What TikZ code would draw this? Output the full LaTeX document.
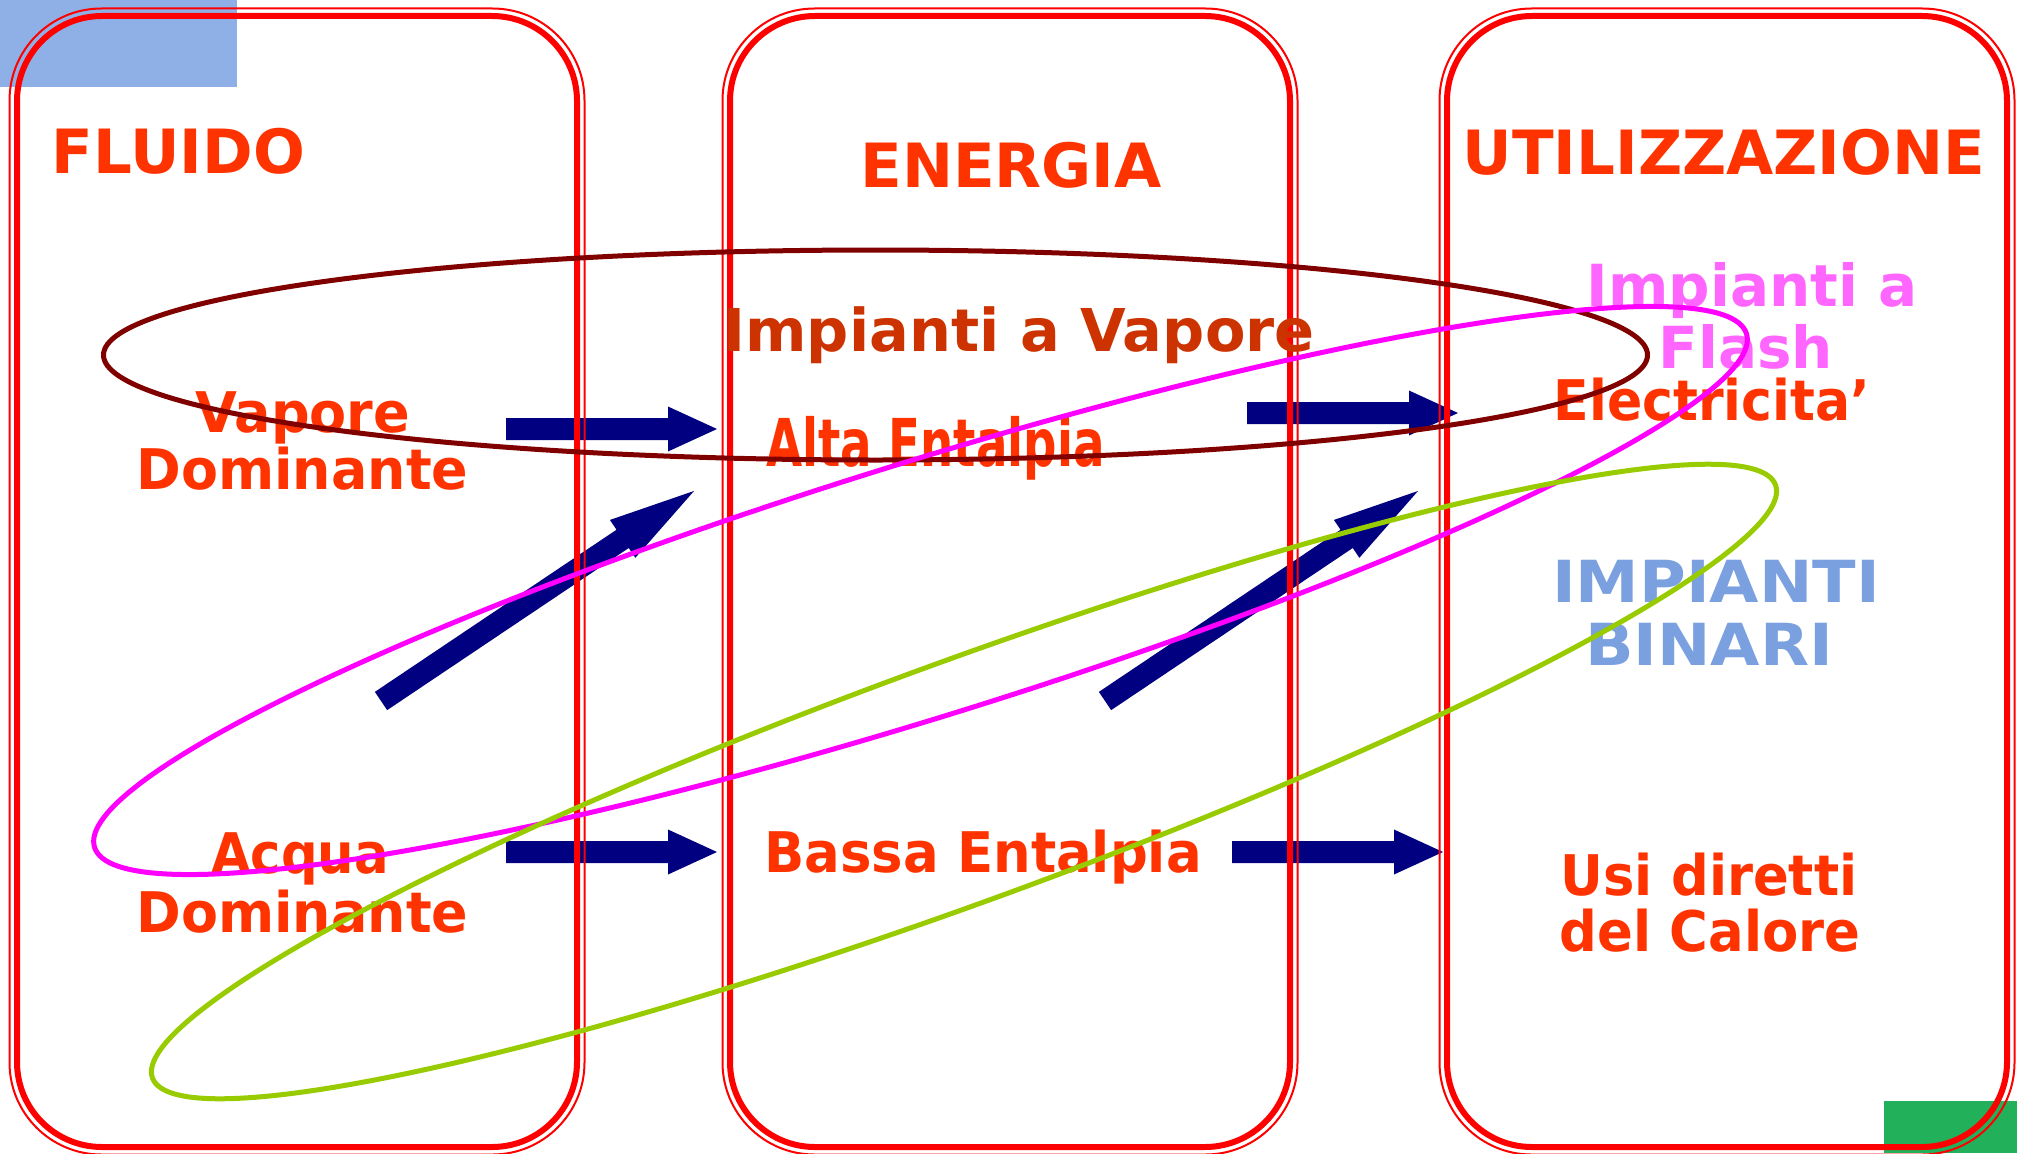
\documentclass[tikz,border=0pt]{standalone}
\usepackage{fontspec}
\setmainfont{DejaVu Sans}
\definecolor{boxred}{HTML}{FF0000}
\definecolor{txtor}{HTML}{FF3300}
\definecolor{txtdark}{HTML}{CC3300}
\definecolor{txtpink}{HTML}{FF66FF}
\definecolor{txtblue}{HTML}{7AA0E0}
\definecolor{navyc}{HTML}{000080}
\definecolor{brownc}{HTML}{800000}
\definecolor{magc}{HTML}{FF00FF}
\definecolor{greenc}{HTML}{99CC00}
\definecolor{bluerect}{HTML}{8FB0E6}
\definecolor{greenrect}{HTML}{22B05B}
\newcommand{\hsq}[2]{\scalebox{#1}[1]{#2}}
\tikzset{
  lbl/.style={anchor=base, inner sep=0pt, text=txtor, font=\bfseries\fontsize{56pt}{60pt}\selectfont},
  ttl/.style={lbl, font=\bfseries\fontsize{61pt}{66pt}\selectfont},
  biglbl/.style={lbl, font=\bfseries\fontsize{58pt}{62pt}\selectfont},
  thickbox/.style={draw=boxred, line width=6pt, rounded corners=85pt},
  thinbox/.style={draw=boxred, line width=2pt, rounded corners=92pt},
  blockarrow/.style={fill=navyc},
  ring/.style={line width=5pt}
}
\begin{document}
\begin{tikzpicture}[x=1pt,y=-1pt]
\useasboundingbox (0,0) rectangle (2017,1153);
\fill[white] (0,0) rectangle (2017,1153);
% corner decorations
\fill[bluerect] (0,0) rectangle (237,87);
\fill[greenrect] (1884,1101) rectangle (2017,1153);
% block arrows
\coordinate (a1t) at (506,429);
\coordinate (a2t) at (1247,413);
\coordinate (a3t) at (506,852);
\coordinate (a4t) at (1232,852);
\coordinate (d1t) at (381,701);
\coordinate (d2t) at (1105,701);
\foreach \c in {a1t,a2t,a3t,a4t}{
  \fill[blockarrow, shift={(\c)}] (0,-11) -- (162,-11) -- (162,-22.5) -- (211,0) -- (162,22.5) -- (162,11) -- (0,11) -- cycle;
}
\foreach \c in {d1t,d2t}{
  \fill[blockarrow, shift={(\c)}, rotate=33.86] (0,-11) -- (291,-11) -- (291,-22.8) -- (377,0) -- (291,22.8) -- (291,11) -- (0,11) -- cycle;
}
% columns
\foreach \L in {17,730,1447}{
  \draw[thickbox] (\L,16) rectangle (\L+560,1147);
  \draw[thinbox] (\L-7.5,8.5) rectangle (\L+567.5,1154.5);
}
% titles
\node[ttl] (fluido) at (178.5,173) {FLUIDO};
\node[ttl] (energia) at (1011,187) {ENERGIA};
\node[ttl] (utilizz) at (1724,174) {UTILIZZAZIONE};
% labels
\node[lbl, text=txtdark, font=\bfseries\fontsize{59pt}{62pt}\selectfont] (vapimp) at (1019,351) {Impianti a Vapore};
\node[biglbl, text=txtpink] (flash1) at (1752,306) {Impianti a};
\node[biglbl, text=txtpink] (flash2) at (1746,368) {Flash};
\node[lbl] (elec) at (1712,420) {\hsq{0.93}{Electricita’}};
\node[lbl] (vap1) at (303,432) {\hsq{0.965}{Vapore}};
\node[lbl] (vap2) at (302.5,489) {\hsq{0.962}{Dominante}};
\node[lbl, font=\bfseries\fontsize{66pt}{70pt}\selectfont] (alta) at (935.5,466) {\hsq{0.708}{Alta Entalpia}};
\node[biglbl, text=txtblue] (bin1) at (1716,602) {\hsq{1.1}{IMPIANTI}};
\node[biglbl, text=txtblue] (bin2) at (1709,665) {\hsq{1.1}{BINARI}};
\node[lbl] (acq1) at (300,873) {\hsq{0.915}{Acqua}};
\node[lbl] (acq2) at (302.5,932) {\hsq{0.962}{Dominante}};
\node[lbl] (bassa) at (983,872) {\hsq{0.944}{Bassa Entalpia}};
\node[lbl] (usi1) at (1709,895) {\hsq{0.942}{Usi diretti}};
\node[lbl] (usi2) at (1710,951) {\hsq{0.943}{del Calore}};
% groupings
\draw[ring, draw=brownc] (875.5,355) ellipse [x radius=772pt, y radius=105pt];
\draw[ring, draw=magc, rotate around={17.27:(920.5,590.5)}] (920.5,590.5) ellipse [x radius=865pt, y radius=127pt];
\draw[ring, draw=greenc, rotate around={20.07:(964,781.5)}] (964,781.5) ellipse [x radius=864pt, y radius=120pt];
\end{tikzpicture}
\end{document}
